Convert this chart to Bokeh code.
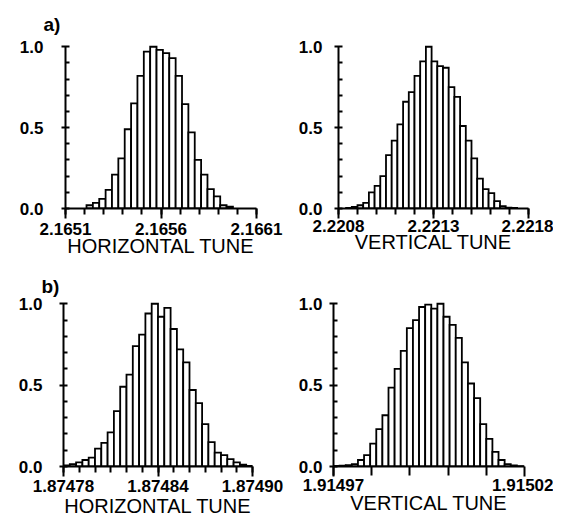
from bokeh.plotting import figure
from bokeh.models import Range1d, FixedTicker, ColumnDataSource
from bokeh.layouts import row, column
from bokeh.embed import file_html
from bokeh.resources import INLINE

# ---------------- data ----------------
# a) horizontal tune histogram
ah_start = 2.16521
ah_width = 0.0001 / 3
ah_heights = [0.02, 0.035, 0.06, 0.115, 0.21, 0.31, 0.49, 0.65, 0.82, 0.97, 1.00,
              0.98, 0.96, 0.93, 0.82, 0.645, 0.47, 0.30, 0.21, 0.12, 0.075, 0.02, 0.012]
ah_range = (2.1651, 2.1661)
ah_ticks = [2.1651, 2.1656, 2.1661]
ah_labels = ["2.1651", "2.1656", "2.1661"]
ah_minor_step = 0.0001

# a) vertical tune histogram
av_start = 2.22084
av_width = 0.00003
av_heights = [0.004, 0.01, 0.02, 0.035, 0.10, 0.14, 0.20, 0.33, 0.42, 0.52, 0.66,
              0.72, 0.82, 0.91, 1.00, 0.91, 0.88, 0.87, 0.75, 0.69, 0.51, 0.42,
              0.31, 0.185, 0.12, 0.095, 0.045, 0.015, 0.006, 0.003]
av_range = (2.2208, 2.2218)
av_ticks = [2.2208, 2.2213, 2.2218]
av_labels = ["2.2208", "2.2213", "2.2218"]
av_minor_step = 0.0001

# b) horizontal tune histogram
bh_start = 1.87478
bh_width = 0.000004
bh_heights = [0.006, 0.015, 0.025, 0.04, 0.055, 0.11, 0.145, 0.21, 0.34, 0.49,
              0.565, 0.74, 0.81, 0.94, 1.00, 0.92, 0.975, 0.845, 0.72, 0.64,
              0.47, 0.39, 0.26, 0.15, 0.085, 0.07, 0.045, 0.025, 0.012, 0.004]
bh_range = (1.87478, 1.87490)
bh_ticks = [1.87478, 1.87484, 1.87490]
bh_labels = ["1.87478", "1.87484", "1.87490"]
bh_minor_step = 0.00001

# b) vertical tune histogram
bv_start = 1.91497
bv_width = 0.0000016
bv_heights = [0.003, 0.005, 0.008, 0.015, 0.04, 0.07, 0.14, 0.23, 0.315, 0.485,
              0.60, 0.71, 0.85, 0.90, 0.98, 0.995, 0.97, 1.00, 0.92, 0.87, 0.79,
              0.64, 0.51, 0.42, 0.26, 0.17, 0.09, 0.04, 0.014, 0.006, 0.002]
bv_range = (1.91497, 1.91502)
bv_ticks = [1.91497, 1.91502]
bv_labels = ["1.91497", "1.91502"]
bv_minor_step = 0.00001

y_ticks = [0.0, 0.5, 1.0]
y_labels = ["0.0", "0.5", "1.0"]
y_minor = [0.1, 0.2, 0.3, 0.4, 0.6, 0.7, 0.8, 0.9]

FONT = "Liberation Sans"


def make_panel(start, width, heights, xr, ticks, labels, minor_step, xlabel,
               W, H, bl, br, bt, bb, y_std=18, lab_std=2, ax_std=0,
               title=None, title_std=9, title_size="19px", minor_out=6):
    p = figure(width=W, height=H,
               x_range=Range1d(*xr), y_range=Range1d(0, 1.02),
               output_backend="svg", toolbar_location=None,
               min_border_left=bl, min_border_right=br,
               min_border_top=bt, min_border_bottom=bb,
               background_fill_color="white", border_fill_color="white")
    p.outline_line_color = None
    p.grid.visible = False
    centers = [start + (i + 0.5) * width for i in range(len(heights))]
    src = ColumnDataSource(dict(x=centers, top=heights))
    p.vbar(x="x", top="top", bottom=0, width=width, source=src,
           fill_color="white", line_color="black", line_width=1.8,
           line_join="miter")

    n_minor = int(round((xr[1] - xr[0]) / minor_step))
    minors = [xr[0] + k * minor_step for k in range(n_minor + 1)]
    xa = p.xaxis[0]
    xa.ticker = FixedTicker(ticks=ticks, minor_ticks=minors)
    xa.major_label_overrides = {t: l for t, l in zip(ticks, labels)}
    xa.axis_label = xlabel
    xa.axis_label_text_font = FONT
    xa.axis_label_text_font_size = "20px"
    xa.axis_label_text_font_style = "normal"
    xa.axis_label_text_color = "black"
    xa.axis_label_standoff = ax_std
    xa.major_label_text_font = FONT
    xa.major_label_text_font_size = "17px"
    xa.major_label_text_font_style = "bold"
    xa.major_label_text_color = "black"
    xa.major_label_standoff = lab_std
    xa.major_tick_in = 0
    xa.major_tick_out = 10
    xa.minor_tick_in = 0
    xa.minor_tick_out = minor_out
    xa.axis_line_width = 2
    xa.major_tick_line_width = 2
    xa.minor_tick_line_width = 2
    xa.axis_line_color = "black"

    ya = p.yaxis[0]
    ya.ticker = FixedTicker(ticks=y_ticks, minor_ticks=y_minor)
    ya.major_label_overrides = {t: l for t, l in zip(y_ticks, y_labels)}
    ya.bounds = (0, 1)
    ya.major_label_text_font = FONT
    ya.major_label_text_font_size = "17px"
    ya.major_label_text_font_style = "bold"
    ya.major_label_text_color = "black"
    ya.major_label_standoff = y_std
    ya.major_tick_in = 4
    ya.major_tick_out = 4
    ya.minor_tick_in = 4
    ya.minor_tick_out = 0
    ya.axis_line_width = 2
    ya.major_tick_line_width = 2
    ya.minor_tick_line_width = 2

    if title:
        p.title.text = title
        p.title.text_font = FONT
        p.title.text_font_size = title_size
        p.title.text_font_style = "bold"
        p.title.text_color = "black"
        p.title.align = "left"
        p.title.offset = -22
        p.title.standoff = title_std
    return p


H1, H2 = 264, 263
W1, W2 = 292, 261

p1 = make_panel(ah_start, ah_width, ah_heights, ah_range, ah_ticks, ah_labels,
                ah_minor_step, "HORIZONTAL TUNE", W1, H1, 65, 36, 40, 56,
                y_std=18, lab_std=4, ax_std=-3, title="a)", title_std=17)
p2 = make_panel(av_start, av_width, av_heights, av_range, av_ticks, av_labels,
                av_minor_step, "VERTICAL TUNE", W2, H1, 46, 25, 43, 52,
                y_std=12, lab_std=1, ax_std=-4)
p3 = make_panel(bh_start, bh_width, bh_heights, bh_range, bh_ticks, bh_labels,
                bh_minor_step, "HORIZONTAL TUNE", W1, H2, 63, 40, 31, 61,
                y_std=17, lab_std=3, ax_std=0, title="b)", title_std=8)
p4 = make_panel(bv_start, bv_width, bv_heights, bv_range, bv_ticks, bv_labels,
                bv_minor_step, "VERTICAL TUNE", W2, H2, 41, 29, 36, 57,
                y_std=7, lab_std=2, ax_std=-2, minor_out=9)

layout = column(row(p1, p2), row(p3, p4))
open("out.html", "w").write(file_html(layout, INLINE))
